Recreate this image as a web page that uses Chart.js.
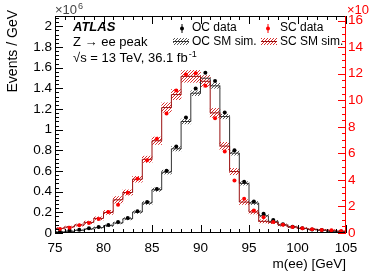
<!DOCTYPE html>
<html lang="en">
<head>
<meta charset="UTF-8">
<title>Z to ee peak - OC / SC</title>
<script src="https://cdn.jsdelivr.net/npm/chart.js"></script>
<style>
  body { margin: 0; background: #fff; }
  #wrap { width: 370px; height: 274px; }
</style>
</head>
<body>
<div id="wrap"><canvas id="chart" width="370" height="274"></canvas></div>
<script>
  // 1 GeV bins, centres in GeV
  const binCenters = [75.5, 76.5, 77.5, 78.5, 79.5, 80.5, 81.5, 82.5, 83.5, 84.5,
                      85.5, 86.5, 87.5, 88.5, 89.5, 90.5, 91.5, 92.5, 93.5, 94.5,
                      95.5, 96.5, 97.5, 98.5, 99.5, 100.5, 101.5, 102.5, 103.5, 104.5];

  // opposite charge, left axis (x10^6 events / GeV)
  const ocData = [0.012, 0.026, 0.032, 0.045, 0.058, 0.077, 0.106, 0.145, 0.21, 0.30,
                  0.425, 0.602, 0.837, 1.118, 1.398, 1.552, 1.472, 1.166, 0.80, 0.496,
                  0.306, 0.187, 0.126, 0.084, 0.061, 0.045, 0.035, 0.029, 0.019, 0.013];
  const ocSim = [0.01, 0.016, 0.026, 0.039, 0.052, 0.071, 0.097, 0.138, 0.203, 0.29,
                 0.419, 0.589, 0.815, 1.079, 1.353, 1.498, 1.424, 1.127, 0.773, 0.48,
                 0.29, 0.167, 0.113, 0.077, 0.058, 0.045, 0.035, 0.026, 0.016, 0.013];
  const ocSimErr = [0.004, 0.004, 0.005, 0.006, 0.007, 0.008, 0.009, 0.011, 0.013, 0.015,
                    0.017, 0.019, 0.021, 0.023, 0.024, 0.025, 0.024, 0.022, 0.02, 0.017,
                    0.015, 0.013, 0.01, 0.008, 0.006, 0.005, 0.005, 0.004, 0.004, 0.004];

  // same charge, right axis
  const scData = [0.3, 0.4, 0.58, 0.75, 1.05, 1.58, 2.13, 3.03, 4.08, 5.48,
                  7.1, 9.0, 10.73, 11.95, 12.03, 11.1, 8.65, 6.15, 3.95, 2.58,
                  1.7, 1.18, 0.83, 0.63, 0.45, 0.35, 0.28, 0.23, 0.2, 0.15];
  const scSim = [0.35, 0.45, 0.6, 0.8, 1.1, 1.55, 2.5, 3.05, 4.05, 5.55,
                 6.95, 9.45, 10.43, 11.8, 11.8, 11.43, 9.05, 6.55, 4.63, 2.33,
                 1.58, 0.88, 0.8, 0.6, 0.45, 0.35, 0.28, 0.23, 0.2, 0.15];
  const scSimErr = [0.06, 0.07, 0.08, 0.1, 0.12, 0.15, 0.25, 0.2, 0.22, 0.24,
                    0.28, 0.36, 0.38, 0.44, 0.45, 0.42, 0.34, 0.28, 0.24, 0.18,
                    0.15, 0.12, 0.1, 0.08, 0.07, 0.06, 0.05, 0.05, 0.05, 0.05];

  const xMin = 75, xMax = 105;
  const yMax = 2.1, y2Max = 16.35;

  const font = "'Liberation Sans', Arial, sans-serif";
  const red = '#f00';
  const ocLine = '#333';
  const scLine = '#9a1010';

  function hatch(color) {
    const c = document.createElement('canvas');
    c.width = 3; c.height = 3;
    const g = c.getContext('2d');
    g.strokeStyle = color;
    g.lineWidth = 1;
    g.beginPath();
    g.moveTo(0, 3); g.lineTo(3, 0);
    g.moveTo(-1, 1); g.lineTo(1, -1);
    g.moveTo(2, 4); g.lineTo(4, 2);
    g.stroke();
    return g.createPattern(c, 'repeat');
  }
  const ocHatch = hatch('#555');
  const scHatch = hatch('#d83030');

  const points = vals => binCenters.map((c, i) => ({ x: c, y: vals[i] }));
  const band = (vals, err) => binCenters.map((c, i) => ({ x: c, y: [vals[i] - err[i], vals[i] + err[i]] }));
  // step histogram: one point per lower edge, plus the last upper edge
  const steps = vals => {
    const pts = binCenters.map((c, i) => ({ x: c - 0.5, y: vals[i] }));
    pts.push({ x: binCenters[binCenters.length - 1] + 0.5, y: vals[vals.length - 1] });
    return pts;
  };

  function drawSup(ctx, base, sup, x, y, size, color) {
    ctx.fillStyle = color;
    ctx.font = size + 'px ' + font;
    ctx.textBaseline = 'alphabetic';
    ctx.textAlign = 'left';
    ctx.fillText(base, x, y);
    const w = ctx.measureText(base).width;
    ctx.font = (size * 0.7) + 'px ' + font;
    ctx.fillText(sup, x + w + 1, y - size * 0.42);
  }

  const decorations = {
    id: 'decorations',
    afterDraw(chart) {
      const { ctx, chartArea: a, scales: { x, y, y2 } } = chart;
      ctx.save();
      ctx.lineWidth = 1;

      // frame + inward ticks (black)
      ctx.strokeStyle = '#000';
      ctx.beginPath();
      ctx.moveTo(a.right, a.top + 0.5); ctx.lineTo(a.left + 0.5, a.top + 0.5);
      ctx.lineTo(a.left + 0.5, a.bottom - 0.5); ctx.lineTo(a.right, a.bottom - 0.5);
      for (let v = xMin; v <= xMax; v++) {
        const px = Math.round(x.getPixelForValue(v)) + 0.5;
        const len = v % 5 === 0 ? 8 : 4;
        ctx.moveTo(px, a.bottom); ctx.lineTo(px, a.bottom - len);
        ctx.moveTo(px, a.top); ctx.lineTo(px, a.top + len);
      }
      for (let i = 0; i * 0.04 <= yMax + 1e-9; i++) {
        const py = Math.round(y.getPixelForValue(i * 0.04)) + 0.5;
        const len = i % 5 === 0 ? 8 : 4;
        ctx.moveTo(a.left, py); ctx.lineTo(a.left + len, py);
      }
      ctx.stroke();

      // right axis (red)
      ctx.strokeStyle = red;
      ctx.beginPath();
      ctx.moveTo(a.right - 0.5, a.top); ctx.lineTo(a.right - 0.5, a.bottom);
      for (let i = 0; i * 0.5 <= y2Max + 1e-9; i++) {
        const py = Math.round(y2.getPixelForValue(i * 0.5)) + 0.5;
        const len = i % 4 === 0 ? 8 : 4;
        ctx.moveTo(a.right, py); ctx.lineTo(a.right - len, py);
      }
      ctx.stroke();

      // axis multipliers
      drawSup(ctx, '\u00d710', '6', a.left, a.top - 2, 13, '#444');
      drawSup(ctx, '\u00d710', '4', a.right + 1, a.top - 2, 13, red);

      // y title, right-aligned at the top
      ctx.save();
      ctx.translate(17, 10);
      ctx.rotate(-Math.PI / 2);
      ctx.fillStyle = '#000';
      ctx.font = '14px ' + font;
      ctx.textAlign = 'right';
      ctx.textBaseline = 'alphabetic';
      ctx.fillText('Events / GeV', 0, 0);
      ctx.restore();

      // labels
      ctx.fillStyle = '#000';
      ctx.textAlign = 'left';
      ctx.textBaseline = 'middle';
      ctx.font = 'italic bold 13px ' + font;
      ctx.fillText('ATLAS', 73, 27);
      ctx.font = '13px ' + font;
      ctx.fillText('Z \u2192 ee peak', 73, 42);
      drawSup(ctx, '\u221As = 13 TeV, 36.1 fb', '-1', 73, 62, 13, '#000');

      // legend
      ctx.font = '12px ' + font;
      ctx.textBaseline = 'middle';
      ctx.fillStyle = '#000';
      ctx.fillText('OC data', 192, 28);
      ctx.fillText('OC SM sim.', 192, 42);
      ctx.fillText('SC data', 280, 28);
      ctx.fillText('SC SM sim.', 280, 42);

      const marker = (mx, color) => {
        ctx.strokeStyle = color; ctx.fillStyle = color;
        ctx.beginPath(); ctx.moveTo(mx, 24); ctx.lineTo(mx, 33); ctx.stroke();
        ctx.beginPath(); ctx.arc(mx, 28.5, 2, 0, Math.PI * 2); ctx.fill();
      };
      marker(182, '#000');
      marker(268, red);

      const box = (bx, pat, line) => {
        ctx.fillStyle = pat;
        ctx.fillRect(bx, 38, 16, 7);
        ctx.strokeStyle = line;
        ctx.beginPath(); ctx.moveTo(bx, 41.5); ctx.lineTo(bx + 16, 41.5); ctx.stroke();
      };
      box(173, ocHatch, ocLine);
      box(261, scHatch, scLine);
      ctx.restore();
    }
  };

  const tickFmt = v => String(Number(v.toFixed(2)));

  new Chart(document.getElementById('chart'), {
    type: 'scatter',
    data: {
      datasets: [
        { type: 'scatter', label: 'SC data', data: points(scData), yAxisID: 'y2',
          backgroundColor: red, borderColor: red, pointRadius: 2, borderWidth: 0, order: 1 },
        { type: 'scatter', label: 'OC data', data: points(ocData), yAxisID: 'y',
          backgroundColor: '#000', borderColor: '#000', pointRadius: 2, borderWidth: 0, order: 1 },
        { type: 'line', label: 'SC SM sim.', data: steps(scSim), yAxisID: 'y2', stepped: 'before',
          borderColor: scLine, borderWidth: 1, pointRadius: 0, fill: false, order: 2 },
        { type: 'line', label: 'OC SM sim.', data: steps(ocSim), yAxisID: 'y', stepped: 'before',
          borderColor: ocLine, borderWidth: 1, pointRadius: 0, fill: false, order: 2 },
        { type: 'bar', label: 'SC unc.', data: band(scSim, scSimErr), yAxisID: 'y2',
          backgroundColor: scHatch, borderWidth: 0, barPercentage: 1, categoryPercentage: 1,
          grouped: false, order: 3 },
        { type: 'bar', label: 'OC unc.', data: band(ocSim, ocSimErr), yAxisID: 'y',
          backgroundColor: ocHatch, borderWidth: 0, barPercentage: 1, categoryPercentage: 1,
          grouped: false, order: 3 }
      ]
    },
    options: {
      responsive: false,
      animation: false,
      layout: { padding: { left: 0, right: 0, top: 16, bottom: 0 } },
      plugins: { legend: { display: false }, tooltip: { enabled: false } },
      scales: {
        x: {
          type: 'linear', min: xMin, max: xMax, offset: false,
          grid: { display: false, drawTicks: false, offset: false }, border: { display: false },
          ticks: { stepSize: 5, includeBounds: false, color: '#000', padding: 7, maxRotation: 0,
                   font: { family: font, size: 13.5 } },
          title: { display: true, text: 'm(ee) [GeV]', align: 'end', color: '#000',
                   font: { family: font, size: 13.5 }, padding: { top: 0, bottom: 2 } },
          afterFit: s => { s.height = 41; }
        },
        y: {
          position: 'left', min: 0, max: yMax,
          grid: { display: false, drawTicks: false }, border: { display: false },
          ticks: { stepSize: 0.2, includeBounds: false, color: '#000', padding: 3,
                   font: { family: font, size: 13.5 }, callback: tickFmt },
          afterFit: s => { s.width = 55; }
        },
        y2: {
          position: 'right', min: 0, max: y2Max,
          grid: { display: false, drawTicks: false }, border: { display: false },
          ticks: { stepSize: 2, includeBounds: false, color: red, padding: 2,
                   font: { family: font, size: 13.5 }, callback: tickFmt },
          afterFit: s => { s.width = 24; }
        }
      }
    },
    plugins: [decorations]
  });
</script>
</body>
</html>
